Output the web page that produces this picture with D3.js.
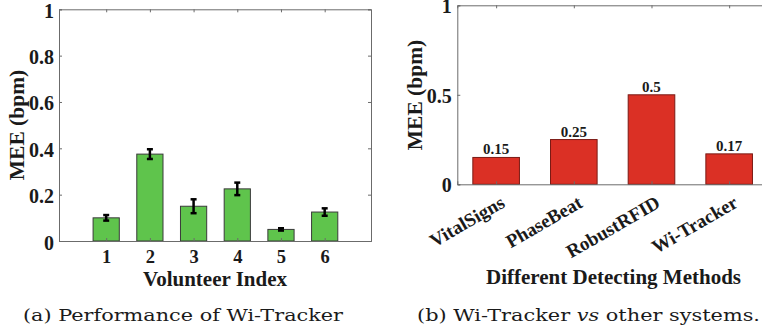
<!DOCTYPE html>
<html>
<head>
<meta charset="utf-8">
<script src="https://cdn.jsdelivr.net/npm/d3@7"></script>
<style>
  body { margin: 0; background: #fff; }
  text { font-family: "Liberation Serif", "Times New Roman", serif; font-weight: bold; fill: #1a1a1a; }
  .cap { font-family: "DejaVu Serif", serif; font-weight: normal; }
</style>
</head>
<body>
<script>
// (a) volontaires
const volunteers = [1, 2, 3, 4, 5, 6];
const volunteerMEE = [0.10, 0.375, 0.15, 0.225, 0.05, 0.125];
const volunteerErr = [0.012, 0.021, 0.03, 0.027, 0.005, 0.016];
const leftYTicks = [0, 0.2, 0.4, 0.6, 0.8, 1];

// (b) méthodes
const methods = ["VitalSigns", "PhaseBeat", "RobustRFID", "Wi-Tracker"];
const methodMEE = [0.15, 0.25, 0.5, 0.17];
const rightYTicks = [0, 0.5, 1];

const W = 762, H = 333;
const svg = d3.select("body").append("svg").attr("width", W).attr("height", H);

const boxColor = "#6b6b6b";

// ---------- panneau (a) ----------
const xL = d3.scaleLinear().domain([-0.08, 7.06]).range([59, 371]);
const yL = d3.scaleLinear().domain([0, 1]).range([241, 9.3]);
const gL = svg.append("g");

gL.selectAll(".barL")
    .data(volunteers)
    .enter()
    .append("rect")
    .attr("x", d => xL(d - 0.3))
    .attr("y", (d, i) => yL(volunteerMEE[i]))
    .attr("width", xL(0.6) - xL(0))
    .attr("height", (d, i) => yL(0) - yL(volunteerMEE[i]))
    .style("fill", "#5fc44c")
    .style("stroke", "#3a3a3a")
    .style("stroke-width", 1);

// barres d'erreur
volunteers.forEach((v, i) => {
    const x = xL(v), lo = yL(volunteerMEE[i] - volunteerErr[i]), hi = yL(volunteerMEE[i] + volunteerErr[i]);
    gL.append("line").attr("x1", x).attr("x2", x).attr("y1", lo).attr("y2", hi)
        .style("stroke", "#000").style("stroke-width", 2.5);
    [lo, hi].forEach(yy => gL.append("line").attr("x1", x - 3).attr("x2", x + 3).attr("y1", yy).attr("y2", yy)
        .style("stroke", "#000").style("stroke-width", 2.5));
});

// ticks vers l'intérieur sur les 4 côtés
const xAxisL = gL.append("g").attr("transform", `translate(0,${yL(0)})`)
    .call(d3.axisBottom(xL).tickValues(volunteers).tickSize(-3).tickPadding(9).tickFormat(d3.format("d")));
gL.append("g").attr("transform", `translate(0,${yL(1)})`)
    .call(d3.axisTop(xL).tickValues(volunteers).tickSize(-3).tickFormat(""));
const yAxisL = gL.append("g").attr("transform", `translate(${xL.range()[0]},0)`)
    .call(d3.axisLeft(yL).tickValues(leftYTicks).tickSize(-3).tickPadding(5).tickFormat(d => d === 0 || d === 1 ? d : d3.format(".1f")(d)));
gL.append("g").attr("transform", `translate(${xL.range()[1]},0)`)
    .call(d3.axisRight(yL).tickValues(leftYTicks).tickSize(-3).tickFormat(""));

gL.append("text").attr("x", 215).attr("y", 286).attr("text-anchor", "middle")
    .style("font-size", "21px").text("Volunteer Index");
gL.append("text").attr("transform", "translate(24,125) rotate(-90)").attr("text-anchor", "middle")
    .style("font-size", "21.5px").text("MEE (bpm)");

// ---------- panneau (b) ----------
const xR = d3.scaleLinear().domain([0.5, 4.5]).range([457.3, 768]);
const yR = d3.scaleLinear().domain([0, 1]).range([184.3, 5.3]);
const gR = svg.append("g");
const idx = methods.map((m, i) => i + 1);

gR.selectAll(".barR")
    .data(idx)
    .enter()
    .append("rect")
    .attr("x", d => xR(d - 0.3))
    .attr("y", d => yR(methodMEE[d - 1]))
    .attr("width", xR(0.6) - xR(0))
    .attr("height", d => yR(0) - yR(methodMEE[d - 1]))
    .style("fill", "#db3025")
    .style("stroke", "#7a1a14")
    .style("stroke-width", 1);

gR.selectAll(".val")
    .data(idx)
    .enter()
    .append("text")
    .attr("x", d => xR(d))
    .attr("y", d => yR(methodMEE[d - 1]) - 3)
    .attr("text-anchor", "middle")
    .style("font-size", "15px")
    .text(d => methodMEE[d - 1]);

gR.append("g").attr("transform", `translate(0,${yR(0)})`)
    .call(d3.axisBottom(xR).tickValues(idx).tickSize(-3).tickFormat(""));
gR.append("g").attr("transform", `translate(0,${yR(1)})`)
    .call(d3.axisTop(xR).tickValues(idx).tickSize(-3).tickFormat(""));
const yAxisR = gR.append("g").attr("transform", `translate(${xR.range()[0]},0)`)
    .call(d3.axisLeft(yR).tickValues(rightYTicks).tickSize(-3).tickPadding(5.5).tickFormat(d => d));

gR.selectAll(".xlab")
    .data(idx)
    .enter()
    .append("text")
    .attr("transform", d => `translate(${xR(d) + 10},${yR(0) + 22}) rotate(-30)`)
    .attr("text-anchor", "end")
    .style("font-size", "19px")
    .text(d => methods[d - 1]);

gR.append("text").attr("x", 613.5).attr("y", 284).attr("text-anchor", "middle")
    .style("font-size", "21px").text("Different Detecting Methods");
gR.append("text").attr("transform", "translate(422,95) rotate(-90)").attr("text-anchor", "middle")
    .style("font-size", "21.5px").text("MEE (bpm)");

// style des axes
svg.selectAll(".domain").style("stroke", boxColor);
svg.selectAll(".tick line").style("stroke", boxColor);
svg.selectAll(".tick text").style("font-family", "'Liberation Serif', serif")
    .style("font-weight", "bold").style("fill", "#1a1a1a").style("font-size", "20px");
xAxisL.selectAll(".tick text").style("font-size", "18.5px");
yAxisL.selectAll(".tick text").attr("dy", "0.4em");
yAxisR.selectAll(".tick text").attr("dy", "0.36em");

// légendes en bas
const capA = svg.append("text").attr("class", "cap").attr("x", 23).attr("y", 321)
    .style("font-size", "17.5px").text("(a) Performance of Wi-Tracker");
capA.attr("textLength", 320).attr("lengthAdjust", "spacingAndGlyphs");
const capB = svg.append("text").attr("class", "cap").attr("x", 417).attr("y", 321)
    .style("font-size", "17.5px");
capB.append("tspan").text("(b) Wi-Tracker ");
capB.append("tspan").style("font-style", "italic").text("vs");
capB.append("tspan").text(" other systems.");
capB.attr("textLength", 343).attr("lengthAdjust", "spacingAndGlyphs");
</script>
</body>
</html>
